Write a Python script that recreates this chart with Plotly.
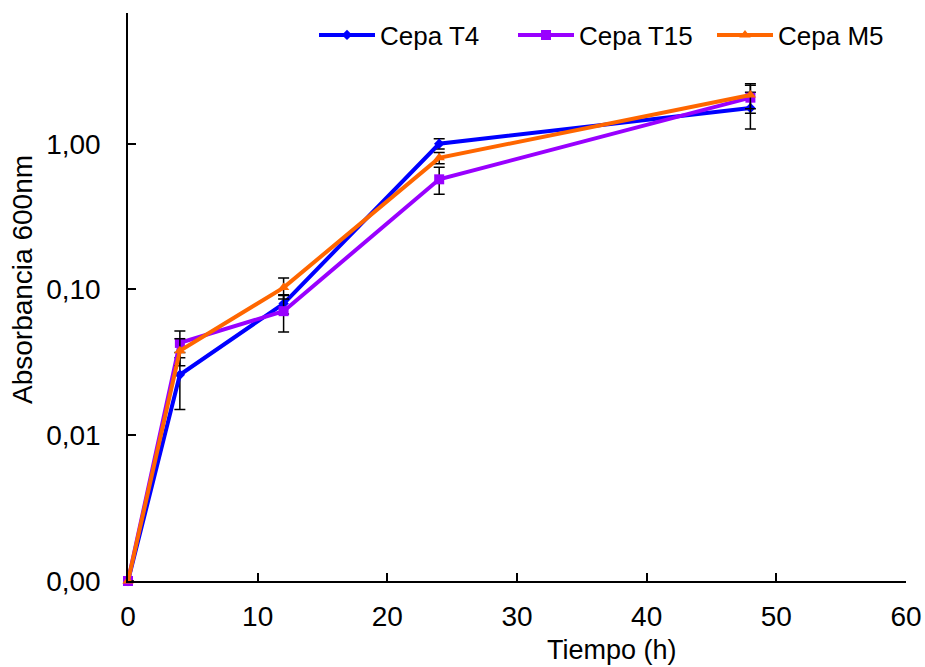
import plotly.graph_objects as go

# Growth curves: absorbance at 600 nm over time for three strains
tiempo = [0, 4, 12, 24, 48]

t4 = [0.001, 0.026, 0.080, 1.00, 1.76]
t4_err = [0.0, 0.011, 0.012, 0.08, 0.50]

t15 = [0.001, 0.043, 0.071, 0.57, 2.07]
t15_err = [0.0, 0.009, 0.020, 0.12, 0.45]

m5 = [0.001, 0.038, 0.103, 0.80, 2.16]
m5_err = [0.0, 0.008, 0.017, 0.07, 0.42]

series_names = ["Cepa T4", "Cepa T15", "Cepa M5"]
y_tickvals = [0.001, 0.01, 0.1, 1.0]
y_ticktext = ["0,00", "0,01", "0,10", "1,00"]
x_tickvals = [0, 10, 20, 30, 40, 50, 60]

FONT = "Liberation Sans, Arial, sans-serif"
W, H = 925, 667
ML, MR, MT, MB = 128, 19, 13, 86

fig = go.Figure()

styles = [
    (t4, t4_err, "#0000FF", "diamond", 8),
    (t15, t15_err, "#9900FF", "square", 10),
    (m5, m5_err, "#FF6600", "triangle-up", 10),
]

for name, (vals, errs, color, symbol, size) in zip(series_names, styles):
    fig.add_trace(go.Scatter(
        x=tiempo, y=vals, name=name, mode="lines+markers",
        line=dict(color=color, width=4),
        marker=dict(symbol=symbol, size=size, color=color),
        error_y=dict(type="data", array=errs, visible=True,
                     color="black", thickness=1.5, width=5.5),
        cliponaxis=False,
    ))

pw = W - ML - MR
ph = H - MT - MB

fig.update_layout(
    width=W, height=H,
    margin=dict(l=ML, r=MR, t=MT, b=MB, autoexpand=False),
    paper_bgcolor="white", plot_bgcolor="white",
    font=dict(family=FONT, size=28, color="black"),
    showlegend=True,
    legend=dict(orientation="h", x=(314 - ML) / pw, y=(H - MB - 35) / ph,
                xanchor="left", yanchor="middle",
                font=dict(size=26), bgcolor="rgba(0,0,0,0)",
                itemwidth=56, entrywidth=128, tracegroupgap=0),
    xaxis=dict(range=[0, 60], tickvals=x_tickvals, ticks="inside", ticklen=8,
               tickwidth=1.5, tickcolor="black", showline=True, linecolor="black",
               linewidth=1.5, showgrid=False, zeroline=False,
               ticklabelstandoff=10, tickfont=dict(size=28)),
    yaxis=dict(type="log", range=[-3, 0.897], tickvals=y_tickvals,
               ticktext=y_ticktext, ticks="inside", ticklen=8, tickwidth=1.5,
               tickcolor="black", showline=True, linecolor="black", linewidth=1.5,
               showgrid=False, zeroline=False, ticklabelstandoff=20,
               tickfont=dict(size=28)),
    annotations=[
        dict(text="Tiempo (h)", x=(612 - ML) / pw, y=(H - MB - 650) / ph,
             xref="paper", yref="paper", xanchor="center", yanchor="middle",
             showarrow=False, font=dict(size=27)),
        dict(text="Absorbancia 600nm", x=(22 - ML) / pw, y=(H - MB - 280) / ph,
             xref="paper", yref="paper", xanchor="center", yanchor="middle",
             showarrow=False, textangle=-90, font=dict(size=28)),
    ],
)

fig.write_html("out.html")
